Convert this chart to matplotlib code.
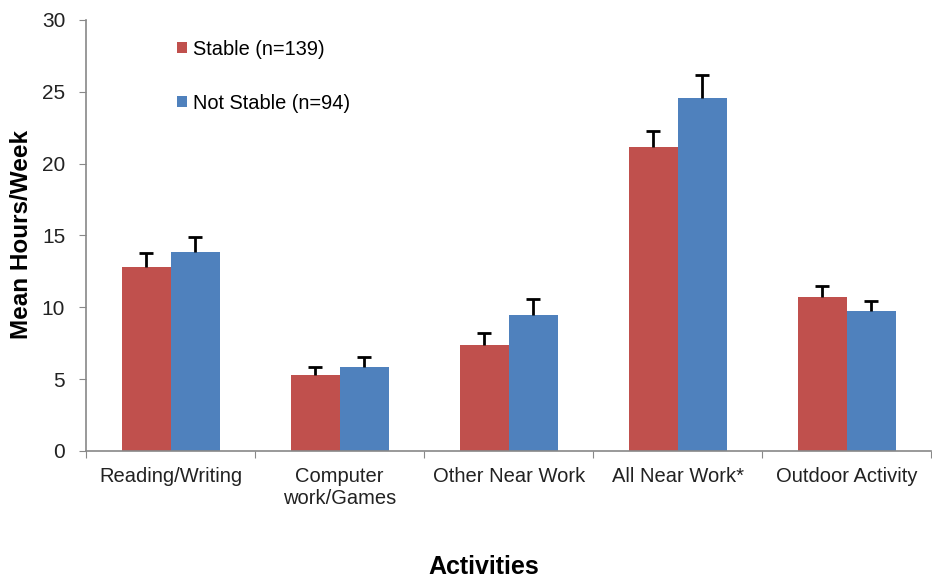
import numpy as np
import matplotlib.pyplot as plt

plt.rcParams['font.family'] = ['Liberation Sans', 'DejaVu Sans']

activities = ["Reading/Writing", "Computer\nwork/Games", "Other Near Work",
              "All Near Work*", "Outdoor Activity"]
stable = [12.8, 5.3, 7.4, 21.15, 10.7]
stable_err = [1.0, 0.55, 0.8, 1.1, 0.8]
not_stable = [13.85, 5.85, 9.45, 24.6, 9.75]
not_stable_err = [1.05, 0.7, 1.15, 1.6, 0.65]

red = "#C0504D"
blue = "#4F81BD"

fig = plt.figure(figsize=(9.32, 5.87), dpi=100)
ax = fig.add_axes([0.0923, 0.232, 0.907, 0.734])

x = np.arange(len(activities))
w = 0.29
ekw = dict(ecolor="black", elinewidth=2, capthick=2)
b1 = ax.bar(x - w / 2, stable, w, color=red, label="Stable (n=139)",
            yerr=[np.zeros(5), stable_err], capsize=5, error_kw=ekw)
b2 = ax.bar(x + w / 2, not_stable, w, color=blue, label="Not Stable (n=94)",
            yerr=[np.zeros(5), not_stable_err], capsize=5, error_kw=ekw)
# only the upper half of the error bars is shown
for b in (b1, b2):
    b.errorbar.lines[1][0].set_visible(False)

ax.set_xlim(-0.5, 4.5)
ax.set_ylim(0, 30)
ax.set_yticks(range(0, 31, 5))
ax.set_xticks(np.arange(-0.5, 5, 1))
ax.set_xticklabels([])
ax.set_xticks(x, minor=True)
ax.set_xticklabels(activities, minor=True, fontsize=14.5, color="#222222")
ax.tick_params(axis="x", which="minor", length=0, pad=12)
ax.tick_params(axis="x", which="major", length=5, color="#888888")
ax.tick_params(axis="y", labelsize=15, length=5, color="#888888", pad=10,
               labelcolor="#222222")

for s in ["top", "right"]:
    ax.spines[s].set_visible(False)
for s in ["left", "bottom"]:
    ax.spines[s].set_color("#888888")
    ax.spines[s].set_linewidth(1.2)

fig.text(0.023, 0.6, "Mean Hours/Week", fontsize=17.5, fontweight="bold",
         rotation=90, ha="center", va="center")
fig.text(0.519, 0.034, "Activities", fontsize=18, fontweight="bold",
         ha="center", va="center")

ax.legend(loc="upper left", bbox_to_anchor=(0.098, 0.973), frameon=False,
          fontsize=14.4, handlelength=0.5, handleheight=0.5, handletextpad=0.3,
          labelspacing=1.75, borderaxespad=0)

fig.savefig("out.png", dpi=100)
